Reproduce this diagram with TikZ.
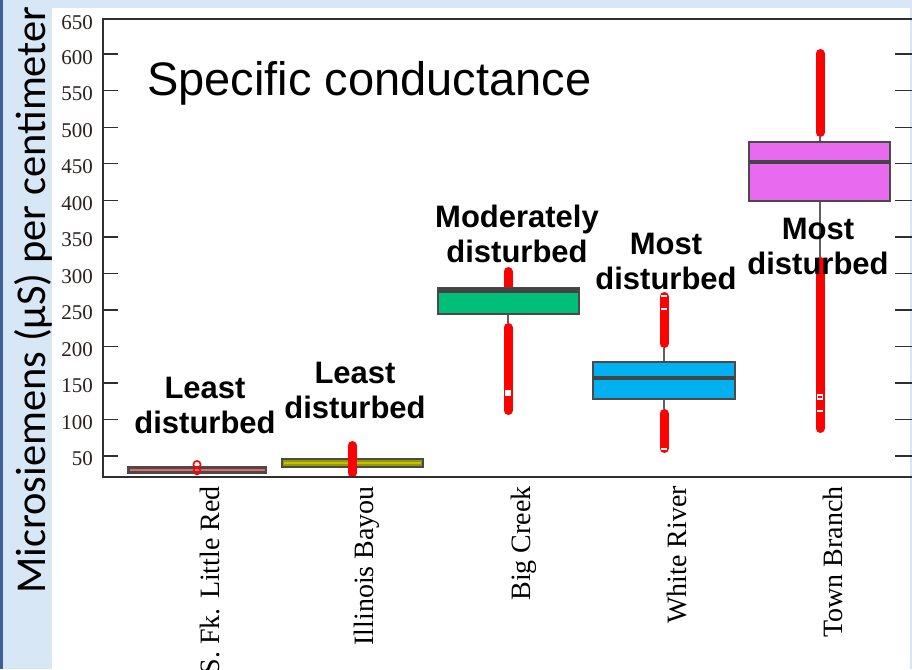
\documentclass[tikz,border=0pt]{standalone}
\usepackage{fontspec}
\setmainfont{Liberation Serif}
\newfontfamily\arialf{Liberation Sans}
\newfontfamily\calib{Carlito}
\definecolor{bgblue}{HTML}{D8E7F6}
\definecolor{edgeblue}{HTML}{3E5F99}
\definecolor{axisc}{HTML}{303030}
\definecolor{tickc}{HTML}{2A2020}
\definecolor{boxc}{HTML}{4A4A4A}
\definecolor{salmon}{HTML}{E86A64}
\definecolor{olivef}{HTML}{9A9800}
\definecolor{olivemed}{HTML}{C4C200}
\definecolor{greenf}{HTML}{00BF78}
\definecolor{bluef}{HTML}{00B0F0}
\definecolor{violetf}{HTML}{E86AEE}
\definecolor{whiskc}{HTML}{606060}
\begin{document}
\begin{tikzpicture}[x=1pt,y=-1pt,
  axisline/.style={axisc,line width=1.6pt},
  tickline/.style={axisc,line width=1.4pt},
  ticklabel/.style={tickc,anchor=east,inner sep=0pt,font=\fontsize{21}{24}\selectfont},
  boxs/.style={draw=boxc,line width=1.6pt},
  medline/.style={draw=axisc!90,line width=3.2pt},
  whisk/.style={draw=whiskc,line width=1.3pt},
  outl/.style={draw=red,line width=9pt,line cap=round},
  hole/.style={draw=white,line width=1.8pt},
  lab/.style={align=center,inner sep=0pt,font=\arialf\bfseries\fontsize{31}{35}\selectfont},
  xlab/.style={rotate=90,anchor=base east,inner sep=0pt,font=\fontsize{28}{32}\selectfont}]
\useasboundingbox (0,0) rectangle (912,669);
% background
\fill[bgblue] (0,0) rectangle (912,669);
\fill[edgeblue] (0,0) rectangle (3,669);
\fill[white] (52,8) rectangle (910,669);
% ticks and tick labels
\foreach \v in {50,100,...,600}{
  \pgfmathsetmacro\yy{456-(\v-50)*0.7306}
  \draw[tickline] (103,\yy) -- (118,\yy);
  \draw[tickline] (895,\yy) -- (912,\yy);
  \node[ticklabel] (t\v) at (93,\yy+3) {\v};
}
\node[ticklabel] (t650) at (93,23) {650};
% box 1: S. Fk. Little Red
\fill[boxc] (127,465.5) rectangle (267,473.5);
\draw[salmon,line width=2pt] (129.5,469.5) -- (264.5,469.5);
\draw[red,line width=1.6pt] (197,464.5) circle (3.6pt);
\draw[red,line width=1.6pt] (197,471) circle (3.4pt);
% box 2: Illinois Bayou
\draw[boxs,line width=2.2pt,fill=olivef] (282,459) rectangle (423,467);
\draw[olivemed,line width=1.5pt] (284,463) -- (421,463);
\draw[outl] (352,445.5) -- (352,473);
% box 3: Big Creek
\draw[whisk] (508,314) -- (508,323);
\draw[outl] (508,271.5) -- (508,288);
\draw[outl] (508,327.5) -- (508,410.5);
\fill[white] (505,389.5) rectangle (511,395.5);
\draw[boxs,fill=greenf] (438,288) rectangle (579,314);
\draw[medline,line width=4.5pt] (438,290.5) -- (579,290.5);
% box 4: White River
\draw[whisk] (664,348) -- (664,362);
\draw[whisk] (664,399) -- (664,409);
\draw[outl] (664,296.5) -- (664,343.5);
\draw[outl] (664,413.5) -- (664,448.5);
\draw[hole] (661,296) -- (667,296);
\draw[hole] (661,309) -- (667,309);
\draw[hole] (661,449) -- (667,449);
\draw[boxs,fill=bluef] (593,362) rectangle (735,399);
\draw[medline] (593,378) -- (735,378);
% box 5: Town Branch
\draw[whisk] (820,137) -- (820,142);
\draw[whisk] (820,201) -- (820,257);
\draw[outl] (820,53.5) -- (820,132.5);
\draw[outl] (820,261.5) -- (820,428.5);
\draw[white,line width=1.2pt] (817.5,395) rectangle (822.5,399);
\draw[hole] (817,411) -- (823,411);
\draw[boxs,fill=violetf] (749,142) rectangle (890,201);
\draw[medline] (749,162) -- (890,162);
% axis frame
\draw[axisline] (912,19) -- (103,19) -- (103,477) -- (912,477);
% title
\node[anchor=base west,inner sep=0pt,font=\arialf\fontsize{47}{56}\selectfont] (title) at (147,95) {Specific conductance};
% disturbance labels
\node[lab] (l1) at (205,405.5) {Least\\disturbed};
\node[lab] (l2) at (355,390) {Least\\disturbed};
\node[lab] (l3) at (517,233.5) {Moderately\\disturbed};
\node[lab] (l4) at (666,261.5) {Most\\disturbed};
\node[lab] (l5) at (818,246.5) {Most\\disturbed};
% site labels
\node[xlab] (x1) at (219,486) {S. Fk. Little Red};
\node[xlab] (x2) at (373,486) {Illinois Bayou};
\node[xlab] (x3) at (530,486) {Big Creek};
\node[xlab] (x4) at (686,486) {White River};
\node[xlab] (x5) at (842,486) {Town Branch};
% y axis title
\node[rotate=90,anchor=base,inner sep=0pt,font=\calib\fontsize{42.5}{50}\selectfont] (ytitle) at (45,300) {Microsiemens (µS) per centimeter};
\end{tikzpicture}
\end{document}
